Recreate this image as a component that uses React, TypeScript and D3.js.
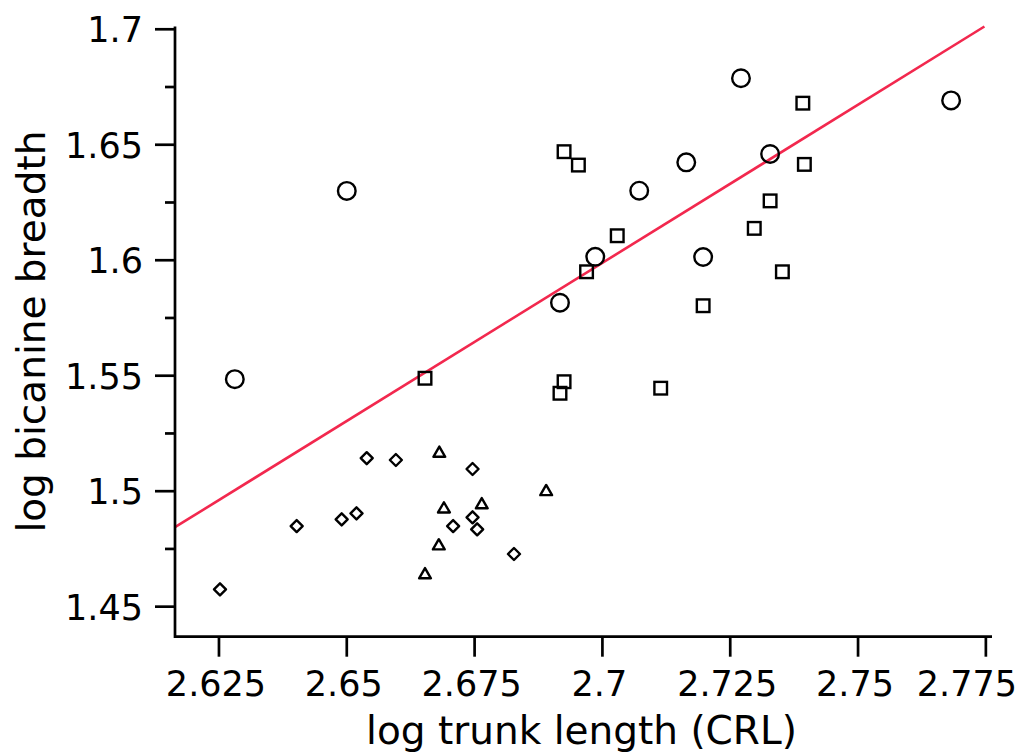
import React from "react";
import * as d3 from "d3";

// ---- data ----
const circleX = [2.6281, 2.650, 2.6917, 2.6986, 2.7072, 2.7164, 2.7197, 2.7271, 2.7328, 2.7682];
const circleY = [1.5485, 1.630, 1.5816, 1.6015, 1.6301, 1.6424, 1.6014, 1.6788, 1.646, 1.6692];

const squareX = [2.6925, 2.6953, 2.7029, 2.6969, 2.7197, 2.6925, 2.6917, 2.7114, 2.7392, 2.7395, 2.7328, 2.7297, 2.7352, 2.6653];
const squareY = [1.647, 1.6412, 1.6106, 1.595, 1.5803, 1.5474, 1.5424, 1.5446, 1.668, 1.6415, 1.6257, 1.6138, 1.595, 1.5489];

const diamondX = [2.6252, 2.6402, 2.649, 2.6519, 2.6539, 2.6596, 2.6746, 2.6746, 2.6708, 2.6755, 2.6827];
const diamondY = [1.4575, 1.4849, 1.4878, 1.4904, 1.5143, 1.5135, 1.5096, 1.4887, 1.4849, 1.4835, 1.4728];

const triangleX = [2.6681, 2.689, 2.669, 2.6764, 2.668, 2.6653];
const triangleY = [1.5171, 1.5005, 1.493, 1.4948, 1.477, 1.4645];

// regression line: y = intercept + slope * x
const fitIntercept = -2.0985;
const fitSlope = 1.3694;

const xTicks = [2.625, 2.65, 2.675, 2.7, 2.725, 2.75, 2.775];
const xTickLabels = ["2.625", "2.65", "2.675", "2.7", "2.725", "2.75", "2.775"];
const yTicks = [1.45, 1.5, 1.55, 1.6, 1.65, 1.7];
const yTickLabels = ["1.45", "1.5", "1.55", "1.6", "1.65", "1.7"];
const yMinorTicks = [1.475, 1.525, 1.575, 1.625, 1.675];

const xDomain = [2.6164, 2.7762];
const yDomain = [1.437, 1.7012];

const xTitle = "log trunk length (CRL)";
const yTitle = "log bicanine breadth";

export default function App() {
  const W = 1027, H = 756;
  const left = 175, right = 992, top = 26.5, bottom = 636.7;
  const x = d3.scaleLinear().domain(xDomain).range([left, right]);
  const y = d3.scaleLinear().domain(yDomain).range([bottom, top]);

  const font = "'DejaVu Sans', sans-serif";
  const stroke = "#000";
  const axisW = 2.7;
  const mW = 2.4;
  const tickFont = 35;
  const rightLimit = W - 10;

  const xTop = (yDomain[1] - fitIntercept) / fitSlope;
  const linePts: [number, number][] = [
    [xDomain[0], fitIntercept + fitSlope * xDomain[0]],
    [Math.min(xTop, xDomain[1]), Math.min(yDomain[1], fitIntercept + fitSlope * xDomain[1])],
  ];
  const linePath = d3.line<[number, number]>().x((d) => x(d[0])).y((d) => y(d[1]))(linePts) || "";

  const sq = 6.3, dm = 6.0, tw = 5.9, th = 5.1;

  // approximate label width in DejaVu Sans (digits 0.636em, period 0.318em)
  const labelWidth = (s: string) => s.split("").reduce((a, c) => a + (c === "." ? 0.318 : 0.636), 0) * tickFont;

  return (
    <div style={{ position: "absolute", left: 0, top: 0 }}>
      <svg width={W} height={H} style={{ display: "block", background: "#fff" }}>
        <rect x={0} y={0} width={W} height={H} fill="#fff" />
        <path d={linePath} fill="none" stroke="#f2284e" strokeWidth={2.6} />

        {circleX.map((v, i) => (
          <circle key={"c" + i} cx={x(v)} cy={y(circleY[i])} r={8.8} fill="none" stroke={stroke} strokeWidth={mW} />
        ))}
        {squareX.map((v, i) => (
          <rect key={"s" + i} x={x(v) - sq} y={y(squareY[i]) - sq} width={2 * sq} height={2 * sq} fill="none" stroke={stroke} strokeWidth={mW} />
        ))}
        {diamondX.map((v, i) => {
          const cx = x(v), cy = y(diamondY[i]);
          return (
            <path key={"d" + i} d={`M${cx},${cy - dm}L${cx + dm},${cy}L${cx},${cy + dm}L${cx - dm},${cy}Z`} fill="none" stroke={stroke} strokeWidth={mW} strokeLinejoin="round" />
          );
        })}
        {triangleX.map((v, i) => {
          const cx = x(v), cy = y(triangleY[i]);
          return (
            <path key={"t" + i} d={`M${cx},${cy - th}L${cx + tw},${cy + th}L${cx - tw},${cy + th}Z`} fill="none" stroke={stroke} strokeWidth={mW} strokeLinejoin="round" />
          );
        })}

        <path d={`M${left},${top}V${bottom}H${right}`} fill="none" stroke={stroke} strokeWidth={axisW} />
        {yTicks.map((t, i) => (
          <g key={"yt" + i}>
            <line x1={left - 20} x2={left} y1={y(t)} y2={y(t)} stroke={stroke} strokeWidth={axisW} />
            <text x={left - 32} y={y(t) + 13} textAnchor="end" fontFamily={font} fontSize={tickFont} fill="#000">{yTickLabels[i]}</text>
          </g>
        ))}
        {yMinorTicks.map((t, i) => (
          <line key={"ym" + i} x1={left - 10} x2={left} y1={y(t)} y2={y(t)} stroke={stroke} strokeWidth={axisW} />
        ))}
        {xTicks.map((t, i) => {
          const cx = x(t) - 3;
          const w = labelWidth(xTickLabels[i]);
          const overflow = cx + w / 2 > rightLimit;
          return (
            <g key={"xt" + i}>
              <line x1={x(t)} x2={x(t)} y1={bottom} y2={bottom + 20} stroke={stroke} strokeWidth={axisW} />
              <text x={overflow ? rightLimit : cx} y={696} textAnchor={overflow ? "end" : "middle"} fontFamily={font} fontSize={tickFont} fill="#000">{xTickLabels[i]}</text>
            </g>
          );
        })}
        <text x={(left + right) / 2 - 2} y={744} textAnchor="middle" fontFamily={font} fontSize={39} fill="#000">{xTitle}</text>
        <text transform={`translate(45,${(top + bottom) / 2}) rotate(-90)`} textAnchor="middle" fontFamily={font} fontSize={39} fill="#000">{yTitle}</text>
      </svg>
    </div>
  );
}
